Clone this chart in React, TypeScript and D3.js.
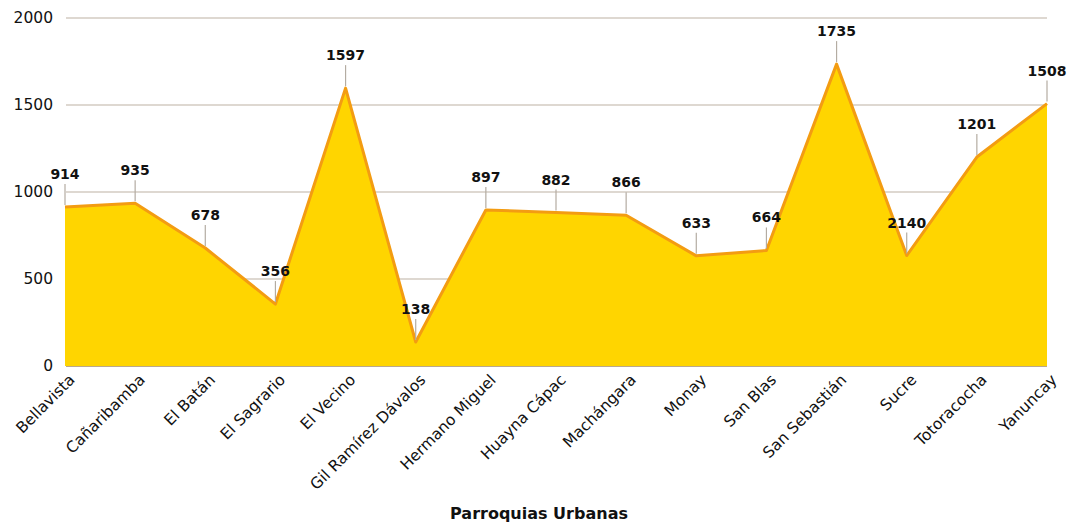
import React from "react";
import * as d3 from "d3";

const categories = [
  "Bellavista", "Cañaribamba", "El Batán", "El Sagrario", "El Vecino",
  "Gil Ramírez Dávalos", "Hermano Miguel", "Huayna Cápac", "Machángara", "Monay",
  "San Blas", "San Sebastián", "Sucre", "Totoracocha", "Yanuncay",
];
const values = [914, 935, 678, 356, 1597, 138, 897, 882, 866, 633, 664, 1735, 635, 1201, 1508];
const labels = ["914", "935", "678", "356", "1597", "138", "897", "882", "866", "633", "664", "1735", "2140", "1201", "1508"];
const yTicks = [0, 500, 1000, 1500, 2000];
const xTitle = "Parroquias Urbanas";

const W = 1070, H = 523;
const FONT = "'DejaVu Sans', sans-serif";

export default function App() {
  const x = d3.scalePoint<string>().domain(categories).range([65, 1047]);
  const y = d3.scaleLinear().domain([0, 2000]).range([366, 18]);
  const pts = categories.map((c, i) => ({ c, v: values[i], l: labels[i] }));
  const area = d3.area<typeof pts[0]>().x(d => x(d.c)!).y0(y(0)).y1(d => y(d.v));
  const line = d3.line<typeof pts[0]>().x(d => x(d.c)!).y(d => y(d.v));
  return (
    <svg width={W} height={H} style={{ position: "absolute", left: 0, top: 0, background: "#fff" }} fontFamily={FONT}>
      {yTicks.map(t => (
        <g key={t}>
          <line x1={66} x2={1047} y1={y(t)} y2={y(t)} stroke={t === 0 ? "#b9a88e" : "#bdb2a4"} strokeWidth={t === 0 ? 2.2 : 1.2} />
          <text x={53} y={y(t)} dy="0.35em" textAnchor="end" fontSize={15.5} fill="#111">{t}</text>
        </g>
      ))}
      <path d={area(pts)!} fill="#FFD500" />
      <path d={line(pts)!} fill="none" stroke="#F39C12" strokeWidth={3} strokeLinejoin="round" />
      {pts.map(d => (
        <line key={"m" + d.c} x1={x(d.c)} x2={x(d.c)} y1={y(d.v) - 2} y2={y(d.v) - 23} stroke="#b4aca2" strokeWidth={1.2} />
      ))}
      {pts.map(d => (
        <text key={"t" + d.c} x={x(d.c)} y={y(d.v) - 28} textAnchor="middle" fontSize={14} fontWeight="bold" fill="#111">{d.l}</text>
      ))}
      {categories.map(c => (
        <text key={"x" + c} transform={`translate(${x(c)! + 7},${377}) rotate(-45)`} textAnchor="end" dy="0.35em" fontSize={15.5} fill="#111">{c}</text>
      ))}
      <text x={539} y={519} textAnchor="middle" fontSize={16} fontWeight="bold" fill="#111">{xTitle}</text>
    </svg>
  );
}
